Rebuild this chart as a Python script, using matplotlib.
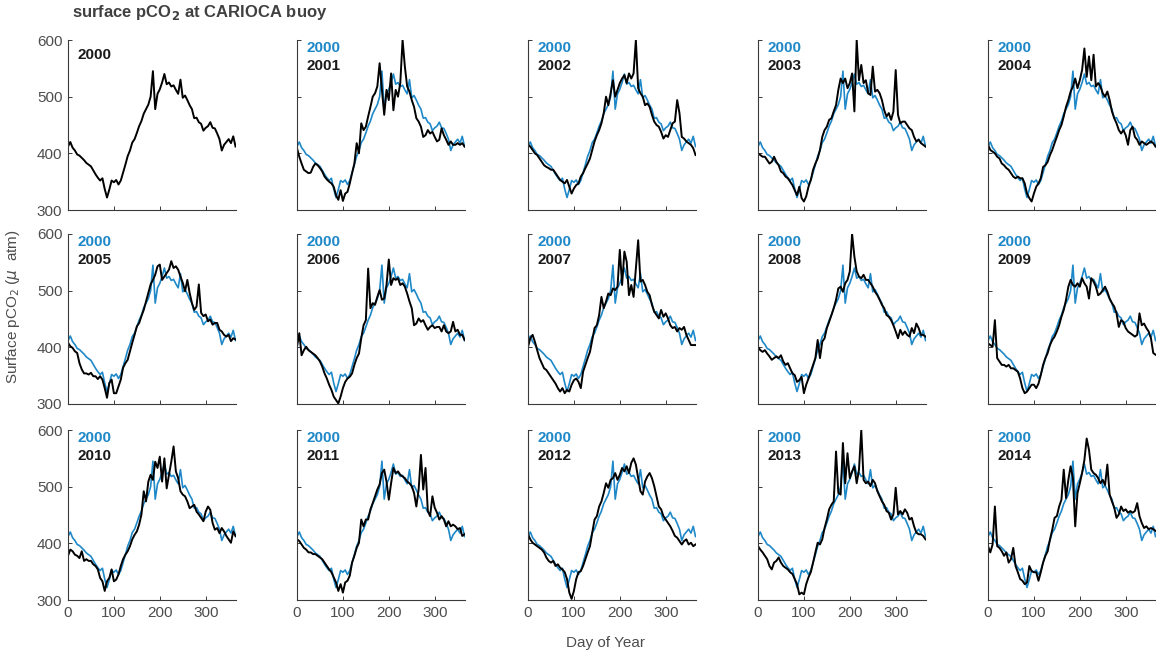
import numpy as np
import matplotlib
matplotlib.use("Agg")
import matplotlib.pyplot as plt

plt.rcParams["font.family"] = ["Liberation Sans", "DejaVu Sans"]

# day of year, every 5 days
days = np.arange(0, 366, 5)

pco2 = {}
pco2[2000] = [412, 420, 410, 405, 398, 396, 392, 388, 383, 380, 377, 370, 363, 357, 352, 356, 337, 322, 336, 352,
              349, 353, 345, 352, 366, 380, 395, 405, 419, 425, 436, 448, 457, 470, 478, 486, 500, 545, 478, 505,
              513, 525, 540, 522, 525, 518, 520, 512, 505, 530, 498, 502, 494, 485, 478, 462, 463, 455, 452, 440,
              445, 448, 455, 445, 444, 435, 425, 405, 415, 420, 425, 418, 430, 412]
pco2[2001] = [409, 394, 382, 371, 368, 365, 366, 376, 382, 379, 374, 368, 359, 354, 350, 347, 341, 326, 318, 335,
              316, 329, 332, 347, 365, 382, 418, 400, 453, 441, 447, 465, 482, 500, 506, 518, 559, 512, 468, 512,
              494, 541, 476, 512, 500, 524, 600, 553, 518, 509, 494, 482, 462, 456, 447, 429, 432, 441, 435, 438,
              429, 421, 424, 444, 432, 424, 415, 421, 415, 415, 418, 415, 418, 412]
pco2[2002] = [415, 412, 406, 400, 397, 391, 385, 379, 376, 374, 371, 371, 365, 359, 353, 350, 347, 353, 341, 329,
              338, 344, 347, 359, 365, 374, 382, 391, 406, 421, 432, 441, 453, 471, 500, 485, 506, 529, 500, 512,
              524, 532, 538, 524, 541, 532, 541, 600, 515, 506, 500, 485, 488, 482, 468, 456, 450, 447, 438, 426,
              432, 429, 441, 453, 456, 494, 471, 429, 426, 421, 418, 415, 409, 397]
pco2[2003] = [400, 397, 394, 394, 388, 382, 385, 394, 385, 379, 368, 365, 359, 356, 350, 344, 335, 326, 341, 321,
              315, 324, 341, 353, 371, 382, 391, 406, 429, 441, 447, 459, 462, 474, 485, 512, 532, 524, 532, 515,
              524, 541, 474, 600, 529, 556, 524, 529, 506, 503, 553, 509, 512, 506, 494, 476, 465, 471, 459, 474,
              547, 468, 453, 456, 456, 450, 444, 441, 429, 421, 424, 418, 415, 412]
pco2[2004] = [415, 406, 403, 400, 394, 391, 382, 379, 374, 371, 365, 359, 356, 359, 356, 356, 347, 329, 321, 315,
              329, 341, 347, 356, 376, 379, 385, 397, 406, 418, 429, 441, 450, 465, 482, 494, 509, 518, 532, 515,
              529, 547, 585, 535, 571, 529, 574, 518, 524, 518, 506, 500, 509, 494, 474, 462, 453, 441, 435, 441,
              432, 415, 441, 447, 429, 424, 415, 421, 418, 415, 418, 421, 418, 412]
pco2[2005] = [408, 402, 399, 393, 390, 372, 361, 354, 354, 352, 355, 349, 349, 344, 349, 343, 328, 311, 337, 343,
              319, 319, 331, 343, 364, 372, 378, 393, 408, 422, 437, 443, 455, 466, 481, 496, 511, 519, 528, 543,
              546, 519, 525, 531, 537, 552, 540, 543, 537, 525, 514, 499, 519, 496, 478, 466, 472, 511, 461, 455,
              458, 446, 449, 440, 443, 443, 431, 428, 422, 419, 422, 411, 416, 414]
pco2[2006] = [401, 425, 386, 395, 401, 395, 392, 389, 386, 381, 375, 366, 354, 345, 334, 325, 313, 307, 301, 313,
              328, 339, 345, 348, 354, 369, 381, 389, 416, 439, 448, 539, 469, 478, 475, 489, 501, 484, 486, 510,
              555, 510, 522, 519, 522, 510, 513, 507, 495, 481, 469, 439, 442, 451, 445, 448, 439, 431, 436, 439,
              434, 436, 436, 428, 439, 428, 425, 428, 445, 428, 431, 422, 422, 413]
pco2[2007] = [401, 416, 422, 410, 395, 381, 372, 363, 360, 354, 348, 342, 336, 328, 322, 328, 319, 325, 322, 334,
              342, 345, 339, 328, 357, 369, 381, 392, 413, 434, 439, 457, 489, 469, 481, 495, 492, 504, 501, 507,
              572, 510, 569, 551, 492, 510, 489, 539, 589, 516, 519, 510, 498, 492, 475, 463, 457, 451, 466, 454,
              460, 451, 439, 434, 436, 428, 434, 431, 436, 422, 413, 404, 404, 404]
pco2[2008] = [401, 395, 392, 395, 389, 384, 378, 381, 384, 381, 386, 375, 369, 372, 363, 354, 351, 339, 342, 348,
              319, 334, 345, 357, 369, 381, 413, 381, 410, 416, 434, 445, 457, 469, 484, 504, 507, 498, 513, 519,
              534, 600, 560, 534, 525, 522, 528, 519, 519, 513, 507, 498, 492, 484, 475, 469, 457, 454, 448, 439,
              428, 416, 431, 422, 428, 422, 419, 434, 425, 442, 434, 422, 422, 419]
pco2[2009] = [407, 404, 401, 448, 381, 375, 369, 369, 366, 369, 363, 363, 360, 357, 345, 328, 319, 322, 328, 334,
              334, 328, 336, 351, 369, 381, 390, 404, 413, 419, 428, 439, 454, 466, 484, 507, 519, 510, 507, 513,
              507, 522, 513, 507, 486, 522, 516, 507, 492, 495, 501, 507, 498, 486, 478, 472, 460, 436, 448, 445,
              434, 428, 425, 422, 419, 422, 460, 439, 442, 434, 428, 416, 390, 387]
pco2[2010] = [378, 389, 386, 380, 378, 374, 386, 369, 372, 369, 369, 363, 360, 354, 339, 333, 316, 333, 339, 354,
              333, 336, 345, 360, 372, 380, 386, 395, 407, 415, 421, 433, 451, 492, 474, 509, 521, 512, 544, 533,
              553, 509, 550, 497, 521, 544, 571, 527, 515, 492, 486, 483, 474, 462, 465, 468, 456, 451, 445, 439,
              456, 465, 459, 436, 424, 427, 418, 427, 421, 413, 407, 401, 421, 413]
pco2[2011] = [407, 404, 398, 392, 389, 384, 384, 381, 381, 378, 375, 372, 366, 360, 354, 349, 340, 331, 316, 328,
              313, 331, 334, 343, 366, 378, 392, 401, 442, 430, 442, 442, 460, 471, 483, 495, 504, 524, 530, 509,
              477, 506, 533, 524, 527, 521, 518, 515, 509, 506, 501, 489, 465, 495, 556, 495, 533, 457, 448, 483,
              463, 454, 442, 448, 442, 430, 439, 430, 433, 430, 425, 427, 413, 416]
pco2[2012] = [416, 407, 401, 398, 395, 392, 389, 384, 375, 369, 366, 369, 360, 363, 357, 354, 349, 337, 313, 302,
              316, 337, 349, 351, 360, 372, 384, 395, 419, 442, 448, 465, 474, 489, 506, 498, 512, 515, 524, 512,
              521, 533, 527, 536, 524, 542, 550, 539, 515, 492, 486, 509, 518, 524, 515, 501, 483, 465, 460, 448,
              442, 436, 430, 422, 413, 410, 404, 398, 404, 407, 398, 401, 395, 398]
pco2[2013] = [395, 389, 384, 378, 372, 360, 354, 366, 369, 375, 366, 360, 357, 354, 349, 346, 337, 328, 310, 313,
              310, 328, 340, 349, 366, 384, 401, 398, 407, 427, 442, 460, 468, 474, 562, 489, 486, 577, 506, 559,
              515, 527, 536, 506, 530, 600, 512, 506, 509, 501, 512, 506, 492, 483, 474, 468, 457, 454, 442, 451,
              498, 451, 457, 451, 460, 454, 442, 445, 430, 419, 416, 416, 413, 407]
pco2[2014] = [395, 384, 398, 465, 395, 392, 386, 378, 384, 366, 372, 392, 360, 349, 337, 334, 328, 331, 360, 351,
              349, 349, 334, 349, 366, 378, 386, 407, 424, 445, 448, 465, 477, 530, 480, 512, 536, 515, 430, 489,
              506, 524, 547, 585, 565, 530, 524, 521, 515, 506, 512, 503, 539, 486, 474, 463, 445, 451, 465, 457,
              460, 454, 457, 454, 457, 471, 448, 436, 427, 430, 425, 427, 425, 422]

years = list(range(2000, 2015))

blue = "#1e88c8"
gray = "#4d4d4d"
figW, figH = 1156, 657

# panel positions in pixels (left, top), all panels same size
colLeft = [68, 297, 528, 758, 988]
rowTop = [40, 234, 430]
pw, ph = 168, 170

fig = plt.figure(figsize=(figW / 100, figH / 100), dpi=100)

for k, yr in enumerate(years):
    row, col = divmod(k, 5)
    x0 = colLeft[col] / figW
    y0 = 1 - (rowTop[row] + ph) / figH
    ax = fig.add_axes([x0, y0, pw / figW, ph / figH])

    if yr != 2000:
        ax.plot(days, pco2[2000], color=blue, lw=1.2)
        ax.plot(days, pco2[yr], color="black", lw=1.4)
        ax.text(20, 586, "2000", color=blue, fontsize=11, fontweight="bold", va="center")
        ax.text(20, 554, str(yr), color="#1a1a1a", fontsize=11, fontweight="bold", va="center")
    else:
        ax.plot(days, pco2[yr], color="black", lw=1.4)
        ax.text(20, 573, str(yr), color="#1a1a1a", fontsize=11, fontweight="bold", va="center")

    ax.set_xlim(0, 366)
    ax.set_ylim(300, 600)
    ax.set_xticks([0, 100, 200, 300])
    ax.set_yticks([300, 400, 500, 600])
    for s in ["top", "right"]:
        ax.spines[s].set_visible(False)
    for s in ["left", "bottom"]:
        ax.spines[s].set_color("#3a3a3a")
        ax.spines[s].set_linewidth(0.8)
    ax.tick_params(direction="in", length=3, width=0.7, color="#3a3a3a",
                   labelsize=11, labelcolor=gray, pad=4)
    if col != 0:
        ax.set_yticklabels([])
    if row != 2:
        ax.set_xticklabels([])

fig.text(72 / figW, 1 - 13 / figH, r"surface pCO$_\mathbf{2}$ at CARIOCA buoy", fontsize=12,
         fontweight="bold", color="#404040", va="center", ha="left")
fig.text(605 / figW, 1 - 643 / figH, "Day of Year", fontsize=11, color=gray, ha="center", va="center")
fig.text(13 / figW, 1 - 307 / figH, r"Surface pCO$_2$ ($\mu$  atm)", fontsize=11, color=gray,
         ha="center", va="center", rotation=90)

fig.savefig("out.png", dpi=100)
